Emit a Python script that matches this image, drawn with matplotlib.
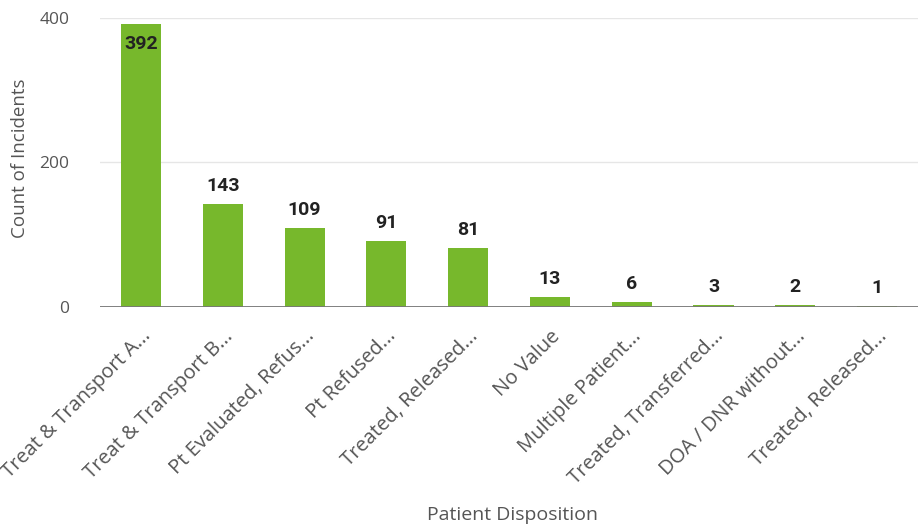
import matplotlib.pyplot as plt
import numpy as np

# Data
categories = ['Treat & Transport A...', 'Treat & Transport B...', 'Pt Evaluated, Refus...',
              'Pt Refused...', 'Treated, Released...', 'No Value', 'Multiple Patient...',
              'Treated, Transferred...', 'DOA / DNR without...', 'Treated, Released...']
counts = [392, 143, 109, 91, 81, 13, 6, 3, 2, 1]
y_ticks = [0, 200, 400]

plt.rcParams['font.family'] = ['Open Sans', 'DejaVu Sans']

fig = plt.figure(figsize=(9.18, 5.29), dpi=100)
ax = fig.add_axes([0.109, 0.42, 0.891, 0.546])

x = np.arange(len(categories))
ax.bar(x, counts, width=0.49, color='#77b82c', zorder=3)

ax.set_xlim(-0.5, len(categories) - 0.5)
ax.set_ylim(0, 400)
ax.set_yticks(y_ticks)
ax.set_yticklabels([str(v) for v in y_ticks], fontsize=12.5, color='#555555')
ax.grid(axis='y', color='#e6e6e6', linewidth=1, zorder=0)
ax.axhline(0, color='#777777', linewidth=1.3, zorder=4)

for s in ax.spines.values():
    s.set_visible(False)
ax.tick_params(axis='both', length=0)
ax.tick_params(axis='y', pad=22)

ax.set_xticks(x)
ax.set_xticklabels(categories, rotation=45, ha='right', rotation_mode='anchor',
                   fontsize=14.5, color='#555555')
ax.tick_params(axis='x', pad=14)

# value labels
for xi, v in zip(x, counts):
    if v > 350:
        ax.text(xi, v - 28, str(v), ha='center', va='center', fontsize=14,
                fontweight='bold', family='Roboto', color='#222222', zorder=5)
    else:
        ax.text(xi, v + 25, str(v), ha='center', va='center', fontsize=14,
                fontweight='bold', family='Roboto', color='#222222', zorder=5)

fig.text(0.022, 0.70, 'Count of Incidents', ha='center', va='center', rotation=90,
         fontsize=13.5, color='#555555')
fig.text(0.558, 0.027, 'Patient Disposition', ha='center', va='center',
         fontsize=14, color='#555555')

fig.savefig('out.png', dpi=100)
